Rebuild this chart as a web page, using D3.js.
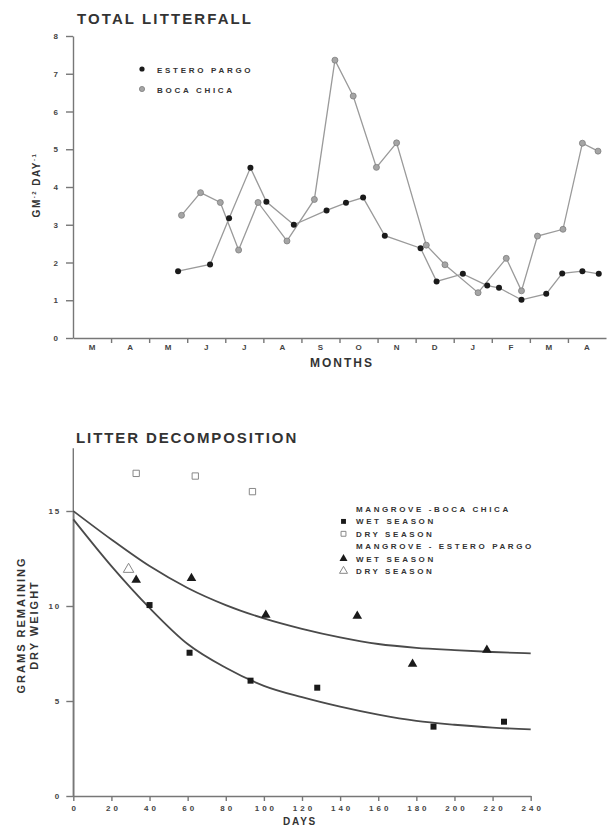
<!DOCTYPE html>
<html>
<head>
<meta charset="utf-8">
<script src="https://cdn.jsdelivr.net/npm/d3@7"></script>
<style>
  body { margin: 0; background: #fff; }
  svg { display: block; font-family: "Liberation Sans", Arial, sans-serif; }
  .axis path, .axis line { stroke: #777; stroke-width: 1.4; }
  .axis text { fill: #444; font-size: 8px; font-weight: bold; }
</style>
</head>
<body>
<svg width="608" height="826"></svg>
<script>
// ---- total litterfall (months since start of March) ----
var months = ["M","A","M","J","J","A","S","O","N","D","J","F","M","A"];
var litterTicks = [0,1,2,3,4,5,6,7,8];

var esteroMonth = [2.76,3.60,4.10,4.66,5.08,5.80,6.66,7.17,7.62,8.19,9.13,9.55,10.24,10.88,11.19,11.78,12.43,12.85,13.38,13.81];
var esteroValue = [1.77,1.95,3.17,4.51,3.61,3.00,3.38,3.58,3.72,2.71,2.38,1.50,1.70,1.39,1.33,1.01,1.17,1.71,1.77,1.70];

var bocaMonth = [2.85,3.35,3.87,4.35,4.86,5.62,6.34,6.88,7.36,7.97,8.50,9.28,9.77,10.64,11.38,11.78,12.20,12.87,13.38,13.79];
var bocaValue = [3.25,3.85,3.59,2.33,3.59,2.57,3.67,7.36,6.41,4.52,5.17,2.46,1.94,1.20,2.11,1.25,2.70,2.88,5.16,4.95];

// ---- litter decomposition ----
var dayTicks = [0,20,40,60,80,100,120,140,160,180,200,220,240];
var gramTicks = [0,5,10,15];

var bcWetDays = [40,61,93,128,189,226];
var bcWetGrams = [10.05,7.54,6.07,5.70,3.65,3.91];
var bcDryDays = [33,64,94];
var bcDryGrams = [16.98,16.84,16.02];
var epWetDays = [33,62,101,149,178,217];
var epWetGrams = [11.37,11.46,9.53,9.47,6.95,7.68];
var epDryDays = [29];
var epDryGrams = [11.93];

var curveDays = [0,20,40,60,80,100,120,140,160,180,200,220,240];
var upperCurve = [15.0,13.5,12.1,10.95,10.05,9.35,8.8,8.35,8.0,7.8,7.68,7.58,7.51];
var lowerCurve = [14.56,12.1,9.9,8.0,6.75,5.8,5.2,4.7,4.28,3.95,3.75,3.6,3.51];

function pairs(xs, ys){ return xs.map(function(x,i){ return {x:x, y:ys[i]}; }); }

var svg = d3.select("svg");
var ink = "#333";

// ================= TOP CHART =================
var x1 = d3.scaleLinear().domain([0,14]).range([73,606]);
var y1 = d3.scaleLinear().domain([0,8]).range([338,36]);

svg.append("text")
  .attr("x",77).attr("y",24)
  .attr("font-size","15px").attr("font-weight","bold")
  .attr("letter-spacing","2.1")
  .attr("fill",ink)
  .text("TOTAL LITTERFALL");

svg.append("g").attr("class","axis")
  .attr("transform","translate(73,0)")
  .call(d3.axisLeft(y1).tickValues(litterTicks).tickSize(7).tickSizeOuter(0).tickPadding(8));

svg.append("g").attr("class","axis")
  .attr("transform","translate(0,338)")
  .call(d3.axisBottom(x1).tickValues(d3.range(1,14)).tickSize(5).tickSizeOuter(0).tickFormat(""));

// month letters centred in each month
svg.append("g")
  .selectAll("text")
  .data(months)
  .enter()
  .append("text")
  .attr("x", function(d,i){ return x1(i+0.5); })
  .attr("y", 350)
  .attr("text-anchor","middle")
  .attr("font-size","8px").attr("font-weight","bold")
  .attr("fill","#444")
  .text(function(d){ return d; });

svg.append("text")
  .attr("x",310).attr("y",367)
  .attr("font-size","12px").attr("font-weight","bold")
  .attr("letter-spacing","2")
  .attr("fill",ink)
  .text("MONTHS");

var yl = svg.append("text")
  .attr("transform","translate(40,185) rotate(-90)")
  .attr("text-anchor","middle")
  .attr("font-size","10px").attr("font-weight","bold")
  .attr("letter-spacing","1.5")
  .attr("fill",ink);
yl.append("tspan").text("GM");
yl.append("tspan").attr("dy","-4").attr("font-size","6px").text("-2");
yl.append("tspan").attr("dy","4").text(" DAY");
yl.append("tspan").attr("dy","-4").attr("font-size","6px").text("-1");

var line1 = d3.line().x(function(d){ return x1(d.x); }).y(function(d){ return y1(d.y); });

svg.append("path")
  .datum(pairs(bocaMonth,bocaValue))
  .attr("d",line1)
  .attr("fill","none").attr("stroke","#9a9a9a").attr("stroke-width",1.3);

svg.append("path")
  .datum(pairs(esteroMonth,esteroValue))
  .attr("d",line1)
  .attr("fill","none").attr("stroke","#9a9a9a").attr("stroke-width",1.3);

svg.append("g")
  .selectAll("circle")
  .data(pairs(bocaMonth,bocaValue))
  .enter()
  .append("circle")
  .attr("cx",function(d){ return x1(d.x); })
  .attr("cy",function(d){ return y1(d.y); })
  .attr("r",3)
  .attr("fill","#a5a5a5").attr("stroke","#7d7d7d").attr("stroke-width",0.8);

svg.append("g")
  .selectAll("circle")
  .data(pairs(esteroMonth,esteroValue))
  .enter()
  .append("circle")
  .attr("cx",function(d){ return x1(d.x); })
  .attr("cy",function(d){ return y1(d.y); })
  .attr("r",3)
  .attr("fill","#1a1a1a");

// legend
svg.append("circle").attr("cx",142).attr("cy",69).attr("r",2.6).attr("fill","#1a1a1a");
svg.append("circle").attr("cx",142).attr("cy",89).attr("r",2.6)
  .attr("fill","#a5a5a5").attr("stroke","#7d7d7d").attr("stroke-width",0.8);
svg.append("text").attr("x",157).attr("y",72.5)
  .attr("font-size","8px").attr("font-weight","bold").attr("letter-spacing","2.7")
  .attr("fill",ink).text("ESTERO PARGO");
svg.append("text").attr("x",157).attr("y",92.5)
  .attr("font-size","8px").attr("font-weight","bold").attr("letter-spacing","2.7")
  .attr("fill",ink).text("BOCA CHICA");

// ================= BOTTOM CHART =================
var x2 = d3.scaleLinear().domain([0,240]).range([73.3,530.7]);
var y2 = d3.scaleLinear().domain([0,15]).range([796,511]);

svg.append("text")
  .attr("x",76).attr("y",443)
  .attr("font-size","15px").attr("font-weight","bold")
  .attr("letter-spacing","1.9")
  .attr("fill",ink)
  .text("LITTER DECOMPOSITION");

// y axis runs up past the last tick
svg.append("line")
  .attr("x1",73.3).attr("x2",73.3)
  .attr("y1",y2(0)).attr("y2",y2(18.3))
  .attr("stroke","#777").attr("stroke-width",1.4);

svg.append("g").attr("class","axis")
  .attr("transform","translate(73.3,0)")
  .call(d3.axisLeft(y2).tickValues(gramTicks).tickSize(7).tickSizeOuter(0).tickPadding(5))
  .selectAll("text").attr("letter-spacing","2");

svg.append("g").attr("class","axis")
  .attr("transform","translate(0,796)")
  .call(d3.axisBottom(x2).tickValues(dayTicks).tickSize(5).tickSizeOuter(0).tickPadding(4))
  .selectAll("text").attr("letter-spacing","3").attr("dx","1.5");

svg.append("text")
  .attr("x",283).attr("y",825)
  .attr("font-size","10px").attr("font-weight","bold")
  .attr("letter-spacing","1.8")
  .attr("fill",ink)
  .text("DAYS");

svg.append("text")
  .attr("transform","translate(25,625) rotate(-90)")
  .attr("text-anchor","middle")
  .attr("font-size","11px").attr("font-weight","bold")
  .attr("letter-spacing","2")
  .attr("fill",ink)
  .text("GRAMS REMAINING");
svg.append("text")
  .attr("transform","translate(38,625) rotate(-90)")
  .attr("text-anchor","middle")
  .attr("font-size","11px").attr("font-weight","bold")
  .attr("letter-spacing","2")
  .attr("fill",ink)
  .text("DRY WEIGHT");

var line2 = d3.line().curve(d3.curveMonotoneX)
  .x(function(d){ return x2(d.x); }).y(function(d){ return y2(d.y); });

svg.append("path").datum(pairs(curveDays,upperCurve)).attr("d",line2)
  .attr("fill","none").attr("stroke","#4a4a4a").attr("stroke-width",1.8);
svg.append("path").datum(pairs(curveDays,lowerCurve)).attr("d",line2)
  .attr("fill","none").attr("stroke","#4a4a4a").attr("stroke-width",1.8);

function drawMarks(days, grams, type, size, filled){
  svg.append("g")
    .selectAll("path")
    .data(pairs(days,grams))
    .enter()
    .append("path")
    .attr("transform",function(d){ return "translate("+x2(d.x)+","+y2(d.y)+")"; })
    .attr("d", d3.symbol().type(type).size(size))
    .attr("fill", filled ? "#1a1a1a" : "none")
    .attr("stroke", filled ? "none" : "#888")
    .attr("stroke-width",1);
}
drawMarks(bcWetDays, bcWetGrams, d3.symbolSquare, 36, true);
drawMarks(bcDryDays, bcDryGrams, d3.symbolSquare, 40, false);
drawMarks(epWetDays, epWetGrams, d3.symbolTriangle, 40, true);
drawMarks(epDryDays, epDryGrams, d3.symbolTriangle, 48, false);

// legend
var legendRows = [
  {label:"MANGROVE -BOCA CHICA"},
  {label:"WET SEASON", type:d3.symbolSquare, size:24, filled:true},
  {label:"DRY SEASON", type:d3.symbolSquare, size:24, filled:false},
  {label:"MANGROVE - ESTERO PARGO"},
  {label:"WET SEASON", type:d3.symbolTriangle, size:28, filled:true},
  {label:"DRY SEASON", type:d3.symbolTriangle, size:28, filled:false}
];
var lg = svg.append("g").attr("transform","translate(356,512)");
lg.selectAll("text")
  .data(legendRows)
  .enter()
  .append("text")
  .attr("x",0)
  .attr("y",function(d,i){ return i*12.4; })
  .attr("font-size","8px").attr("font-weight","bold").attr("letter-spacing","2.6")
  .attr("fill",ink)
  .text(function(d){ return d.label; });
lg.selectAll("path")
  .data(legendRows.filter(function(d){ return d.type; }))
  .enter()
  .append("path")
  .attr("transform",function(d){
    var i = legendRows.indexOf(d);
    return "translate(-12.5,"+(i*12.4-3)+")";
  })
  .attr("d",function(d){ return d3.symbol().type(d.type).size(d.size)(); })
  .attr("fill",function(d){ return d.filled ? "#1a1a1a" : "none"; })
  .attr("stroke",function(d){ return d.filled ? "none" : "#888"; })
  .attr("stroke-width",1);
</script>
</body>
</html>
